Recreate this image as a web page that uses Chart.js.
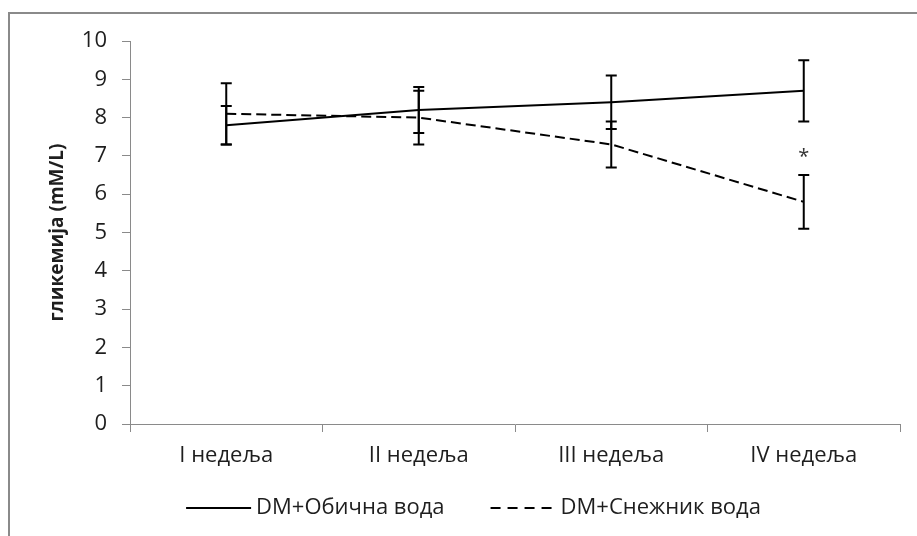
<!DOCTYPE html>
<html>
<head>
<meta charset="utf-8">
<script src="https://cdn.jsdelivr.net/npm/chart.js@4.4.1/dist/chart.umd.min.js"></script>
<style>
  html, body { margin: 0; padding: 0; background: #fff; overflow: hidden; width: 917px; height: 536px; }
  #frame { position: absolute; left: 8px; top: 12px; width: 980px; height: 580px;
           border-left: 2px solid #8a8a8a; border-top: 2px solid #8a8a8a; }
  #wrap { position: absolute; left: 0; top: 0; width: 917px; height: 536px; }
</style>
</head>
<body>
<div id="frame"></div>
<div id="wrap"><canvas id="c" width="917" height="536"></canvas></div>
<script>
// Weeks of treatment
const weeks = ['I недеља', 'II недеља', 'III недеља', 'IV недеља'];

// Mean glycaemia (mM/L) and error (±) per week
const obicnaVoda = [7.8, 8.2, 8.4, 8.7];
const obicnaVodaErr = [0.5, 0.6, 0.7, 0.8];
const snezhnikVoda = [8.1, 8.0, 7.3, 5.8];
const snezhnikVodaErr = [0.8, 0.7, 0.6, 0.7];

// Y axis range and step
const yMin = 0;
const yMax = 10;
const yStep = 1;

// Significance marker: week index, value where it sits, symbol
const signifWeek = [3];
const signifValue = [7.1];
const signifSymbol = ['*'];

const FONT = '"Open Sans", "Noto Sans", sans-serif';
const FONT_SIZE = 22;
const TEXT = '#1e1e1e';
const AXIS = '#8a8a8a';

// Vertical error bars with caps, drawn through the chart scales
const errorBars = {
  id: 'errorBars',
  afterDatasetsDraw(chart) {
    const { ctx, scales: { y } } = chart;
    ctx.save();
    ctx.strokeStyle = '#000';
    ctx.lineWidth = 2;
    ctx.setLineDash([]);
    chart.data.datasets.forEach((ds, i) => {
      const meta = chart.getDatasetMeta(i);
      meta.data.forEach((pt, j) => {
        const v = ds.data[j], e = ds.errors[j];
        const top = y.getPixelForValue(v + e);
        const bot = y.getPixelForValue(v - e);
        const cap = 5.5;
        ctx.beginPath();
        ctx.moveTo(pt.x, top); ctx.lineTo(pt.x, bot);
        ctx.moveTo(pt.x - cap, top); ctx.lineTo(pt.x + cap, top);
        ctx.moveTo(pt.x - cap, bot); ctx.lineTo(pt.x + cap, bot);
        ctx.stroke();
      });
    });
    ctx.restore();
  }
};

// Significance asterisk
const signifMarks = {
  id: 'signifMarks',
  afterDatasetsDraw(chart) {
    const { ctx, scales: { x, y } } = chart;
    ctx.save();
    ctx.fillStyle = '#333';
    ctx.font = '20px ' + FONT;
    ctx.textAlign = 'center';
    ctx.textBaseline = 'alphabetic';
    signifWeek.forEach((w, k) => {
      const m = ctx.measureText(signifSymbol[k]);
      const cy = y.getPixelForValue(signifValue[k]);
      const off = (m.actualBoundingBoxAscent - m.actualBoundingBoxDescent) / 2;
      ctx.fillText(signifSymbol[k], x.getPixelForValue(w), cy + off);
    });
    ctx.restore();
  }
};

// Legend row under the axis: line sample in each dataset's style, then its label
const lineLegend = {
  id: 'lineLegend',
  afterDraw(chart, args, opts) {
    const { ctx } = chart;
    const sample = opts.sampleWidth, gap = opts.textGap, spacing = opts.itemSpacing;
    ctx.save();
    ctx.font = opts.fontSize + 'px ' + FONT;
    const items = chart.data.datasets.map(ds => ({
      ds, w: sample + gap + ctx.measureText(ds.label).width
    }));
    const total = items.reduce((s, it) => s + it.w, 0) + spacing * (items.length - 1);
    let x = opts.centerX - total / 2;
    const y = opts.centerY;
    items.forEach(({ ds, w }) => {
      ctx.strokeStyle = ds.borderColor;
      ctx.lineWidth = ds.borderWidth;
      ctx.setLineDash(ds.borderDash ? opts.sampleDash : []);
      ctx.beginPath();
      ctx.moveTo(x, y); ctx.lineTo(x + sample, y);
      ctx.stroke();
      ctx.setLineDash([]);
      ctx.fillStyle = TEXT;
      ctx.textAlign = 'left';
      ctx.textBaseline = 'middle';
      ctx.fillText(ds.label, x + sample + gap, y);
      x += w + spacing;
    });
    ctx.restore();
  }
};

new Chart(document.getElementById('c'), {
  type: 'line',
  data: {
    labels: weeks,
    datasets: [
      {
        label: 'DM+Обична вода',
        data: obicnaVoda,
        errors: obicnaVodaErr,
        borderColor: '#000',
        backgroundColor: '#000',
        borderWidth: 2,
        pointRadius: 0,
        pointHoverRadius: 0,
        tension: 0,
        fill: false
      },
      {
        label: 'DM+Снежник вода',
        data: snezhnikVoda,
        errors: snezhnikVodaErr,
        borderColor: '#000',
        backgroundColor: '#000',
        borderWidth: 2,
        borderDash: [10, 5],
        pointRadius: 0,
        pointHoverRadius: 0,
        tension: 0,
        fill: false
      }
    ]
  },
  options: {
    responsive: false,
    animation: false,
    events: [],
    layout: { padding: { left: 30, right: 17, top: 41, bottom: 52 } },
    scales: {
      x: {
        type: 'category',
        offset: true,
        grid: { offset: true, drawOnChartArea: false, drawTicks: true, tickLength: 8, color: AXIS, lineWidth: 1 },
        border: { display: true, color: AXIS, width: 1 },
        ticks: { color: TEXT, font: { family: FONT, size: FONT_SIZE }, padding: 11, maxRotation: 0, autoSkip: false },
        afterFit(scale) { scale.height = 60; }
      },
      y: {
        min: yMin,
        max: yMax,
        grid: { drawOnChartArea: false, drawTicks: true, tickLength: 8, color: AXIS, lineWidth: 1 },
        border: { display: true, color: AXIS, width: 1 },
        ticks: { stepSize: yStep, color: TEXT, font: { family: FONT, size: FONT_SIZE }, padding: 15 },
        title: {
          display: true,
          text: 'гликемија (mM/L)',
          color: TEXT,
          font: { family: FONT, size: 19, weight: 'bold' },
          padding: { top: 16, bottom: 0 }
        },
        afterFit(scale) { scale.width = 100; }
      }
    },
    plugins: {
      legend: { display: false },
      tooltip: { enabled: false },
      lineLegend: { centerX: 473.5, centerY: 508, sampleWidth: 65, textGap: 5, itemSpacing: 46, sampleDash: [10, 7], fontSize: FONT_SIZE }
    }
  },
  plugins: [errorBars, signifMarks, lineLegend]
});
</script>
</body>
</html>
